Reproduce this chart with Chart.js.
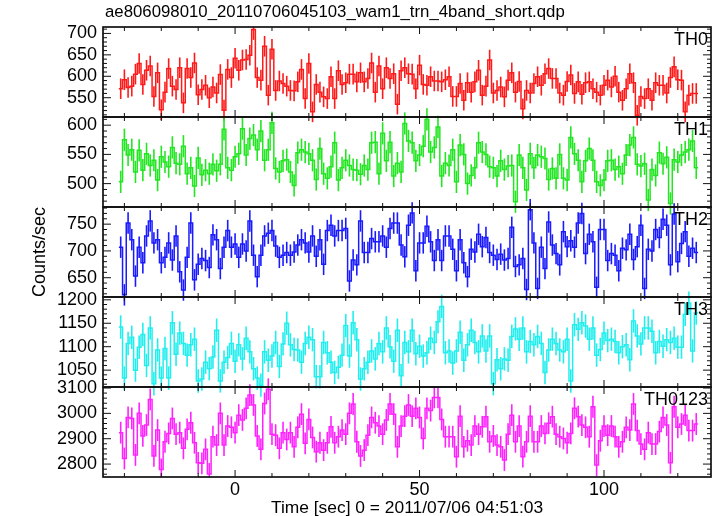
<!DOCTYPE html>
<html>
<head>
<meta charset="utf-8">
<script src="https://cdn.jsdelivr.net/npm/chart.js@4.4.0/dist/chart.umd.min.js"></script>
<style>
html, body { margin: 0; padding: 0; background: #fff; }
#wrap { width: 717px; height: 516px; }
</style>
</head>
<body>
<div id="wrap"><canvas id="lc" width="717" height="516"></canvas></div>
<script>
// 1 s bins, time from 2011/07/06 04:51:03
const firstBin = -31;
const binSize = 1;

const th0 = [571,592,574,577,605,630,581,614,624,553,608,522,563,618,577,569,620,538,618,597,631,557,569,579,550,575,561,604,521,616,597,
  642,614,638,639,649,709,597,591,670,556,663,567,589,583,577,567,566,587,
  616,548,630,517,581,563,552,548,599,548,613,581,585,605,605,587,608,587,595,631,563,624,571,620,595,606,535,613,620,606,605,571,626,581,579,599,589,589,587,592,599,553,553,583,544,585,563,587,614,556,577,638,561,567,
  575,552,591,608,563,588,524,567,561,583,599,579,606,618,595,595,561,556,588,603,560,587,558,585,587,571,563,556,579,591,575,600,563,544,571,606,585,509,553,548,571,544,585,579,579,561,597,622,592,591,517,556,560,560];

const th1 = [503,575,549,558,520,557,523,551,531,540,506,546,537,529,562,535,533,564,517,527,496,544,515,523,517,533,522,533,593,527,523,546,551,594,549,577,583,558,590,540,558,604,526,520,539,541,520,497,553,558,554,551,540,
  507,560,517,509,529,570,506,527,540,531,524,523,516,531,524,570,571,517,586,539,571,513,535,520,603,573,570,539,549,564,610,554,562,597,513,535,531,558,503,566,550,500,514,527,570,554,550,529,527,513,
  539,524,530,531,469,549,527,489,551,527,549,546,543,507,526,509,550,509,506,579,551,540,503,539,560,540,503,497,506,539,540,524,529,517,549,566,579,533,530,534,472,524,514,553,534,545,466,541,537,549,554,558,573,527];

const th2 = [707,618,752,721,653,707,678,728,756,715,721,678,688,715,683,728,661,627,688,752,646,675,686,682,669,730,721,667,707,738,707,
  713,688,713,700,756,692,652,692,728,733,738,709,688,692,697,692,698,711,721,715,698,728,
  690,721,675,738,748,728,738,738,742,644,683,674,756,697,697,723,717,717,728,707,742,752,752,711,689,748,771,663,715,715,746,717,682,721,682,728,728,703,663,721,678,652,703,698,731,708,725,697,692,684,
  694,683,686,744,671,674,686,628,777,715,630,707,667,754,711,695,674,736,708,719,707,752,770,695,731,717,632,740,740,682,695,692,663,705,702,731,684,708,748,630,703,700,740,725,759,748,674,769,680,714,736,690,705,697];

const th3 = [1142,1033,1107,1120,1050,1099,1126,1060,1140,1021,1093,1033,1096,1033,1151,1084,1129,1107,1082,1104,1116,1027,1031,1067,1053,1078,1135,1027,1067,1077,1107,
  1069,1104,1074,1118,1089,1053,1033,1018,1089,1071,1080,1109,1058,1106,1150,1104,1094,1093,1067,1107,1120,1115,
  1036,1036,1109,1087,1067,1045,1056,1082,1145,1080,1151,1115,1031,1053,1067,1091,1074,1107,1089,1140,1100,1069,1135,1038,1109,1089,1135,1085,1101,1080,1087,1118,1109,1153,1186,1087,1091,1065,1091,1131,1071,1104,1135,1109,1089,1123,1091,1123,1021,1072,
  1053,1074,1071,1122,1138,1116,1140,1089,1111,1104,1122,1107,1045,1093,1116,1107,1093,1089,1116,1027,1147,1137,1151,1144,1116,1140,1082,1094,1129,1113,1116,1111,1087,1100,1104,1072,1155,1123,1106,1140,1140,1133,1087,1111,1101,1115,1109,1118,1099,1099,1169,1193,1091,1172];

const th0123 = [2924,2822,2984,2980,2836,3000,2911,2954,3055,2832,2934,2779,2888,2921,2980,2918,2924,2862,2937,2963,2884,2805,2803,2858,2761,2908,2875,3000,2875,2950,2945,
  2924,2993,2974,3020,3072,3033,2911,2858,3039,3095,2918,2914,2862,2924,2897,2924,2868,2945,2997,2882,2976,2905,
  2849,2884,2855,2884,2947,2884,2908,2934,2918,3000,3037,2888,2832,2855,2914,2984,2963,2950,2918,2974,3037,2997,2868,2950,2989,3033,2989,3020,2984,2901,3020,3011,3063,3063,2976,2908,2908,2908,2829,2989,2868,2892,2875,2950,2918,2947,2987,2888,2911,2875,
  2868,2816,2918,2993,2888,2950,2829,2888,2989,2888,2888,2950,2921,2961,2987,2918,2908,2901,2884,2921,3020,2987,2954,2945,2908,3026,2796,2892,2950,2914,2950,2908,2868,2888,2945,2934,3037,2932,2879,2858,2924,2879,2879,2928,2984,2954,2805,3026,2945,2958,2993,2932,2932,2958];

const panelNames = ['TH0', 'TH1', 'TH2', 'TH3', 'TH0123'];
const panelValues = [th0, th1, th2, th3, th0123];
const panelErrors = [24, 19, 20, 25, 43];
const panelMin = [505, 460, 614, 1014, 2749];
const panelMax = [715, 614, 782, 1206, 3104];
const yTickLabels = [[550, 600, 650, 700], [500, 550, 600], [650, 700, 750], [1050, 1100, 1150, 1200], [2800, 2900, 3000, 3100]];
const yMinorStep = [10, 10, 10, 10, 20];
const xTickLabels = [0, 50, 100];
const xMinorStep = 10;
const xMin = -35.8;
const xMax = 129;

const colors = ['#ff1a1a', '#22e622', '#1a1aff', '#22eeee', '#ff22ff'];
const narrow = '"Liberation Sans Narrow", "Liberation Sans", Arial, sans-serif';
const regular = '"Liberation Sans", Arial, sans-serif';

const times = th0.map((_, i) => firstBin + i * binSize);
const axisIds = panelNames.map((_, p) => 'y' + p);

function stepPoints(values) {
  const pts = values.map((v, i) => ({x: times[i] - binSize / 2, y: v}));
  pts.push({x: times[values.length - 1] + binSize / 2, y: values[values.length - 1]});
  return pts;
}

const datasets = panelValues.map((vals, p) => ({
  label: panelNames[p],
  data: stepPoints(vals),
  yAxisID: axisIds[p],
  borderColor: colors[p],
  borderWidth: 1.5,
  pointRadius: 0,
  stepped: 'before',
  fill: false
}));

const scales = {
  x: {
    type: 'linear',
    min: xMin,
    max: xMax,
    grid: {display: false, drawTicks: false},
    border: {display: false},
    afterBuildTicks: s => { s.ticks = xTickLabels.map(v => ({value: v})); },
    afterFit: s => { s.height = 39; },
    ticks: {
      autoSkip: false, maxRotation: 0, padding: 2, color: '#000',
      font: {family: narrow, size: 18},
      callback: v => String(v)
    }
  }
};
// bottom panel first: stacked left axes are placed top-down in reverse order
for (let p = panelNames.length - 1; p >= 0; p--) {
  scales[axisIds[p]] = {
    type: 'linear',
    position: 'left',
    stack: 'panels',
    stackWeight: 1,
    min: panelMin[p],
    max: panelMax[p],
    grid: {display: false, drawTicks: false},
    border: {display: false},
    afterBuildTicks: s => { s.ticks = yTickLabels[p].map(v => ({value: v})); },
    afterFit: s => { s.width = 103; },
    ticks: {
      autoSkip: false, padding: 6, color: '#000',
      font: {family: narrow, size: 18},
      callback: v => String(v)
    }
  };
}

function line(ctx, x1, y1, x2, y2) {
  ctx.beginPath();
  ctx.moveTo(x1, y1);
  ctx.lineTo(x2, y2);
  ctx.stroke();
}

const qdpFrame = {
  id: 'qdpFrame',
  beforeDatasetsDraw(chart) {
    const ctx = chart.ctx;
    const a = chart.chartArea;
    const xs = chart.scales.x;
    ctx.save();
    ctx.beginPath();
    ctx.rect(a.left, a.top, a.right - a.left, a.bottom - a.top);
    ctx.clip();
    ctx.lineWidth = 1.6;
    panelValues.forEach((vals, p) => {
      const ys = chart.scales[axisIds[p]];
      ctx.strokeStyle = colors[p];
      vals.forEach((v, i) => {
        const x = xs.getPixelForValue(times[i]);
        line(ctx, x, ys.getPixelForValue(v - panelErrors[p]), x, ys.getPixelForValue(v + panelErrors[p]));
      });
    });
    ctx.restore();
  },
  afterDraw(chart) {
    const ctx = chart.ctx;
    const a = chart.chartArea;
    const xs = chart.scales.x;
    ctx.save();
    ctx.strokeStyle = '#111';
    panelValues.forEach((vals, p) => {
      const ys = chart.scales[axisIds[p]];
      const top = ys.top, bottom = ys.bottom;
      const major = yTickLabels[p][1] - yTickLabels[p][0];
      ctx.lineWidth = 1;
      for (let v = Math.ceil(ys.min / yMinorStep[p]) * yMinorStep[p]; v <= ys.max; v += yMinorStep[p]) {
        const y = ys.getPixelForValue(v);
        const len = v % major === 0 ? 8 : 4;
        line(ctx, a.left, y, a.left + len, y);
        line(ctx, a.right, y, a.right - len, y);
      }
      for (let t = Math.ceil(xs.min / xMinorStep) * xMinorStep; t <= xs.max; t += xMinorStep) {
        const x = xs.getPixelForValue(t);
        const len = xTickLabels.includes(t) ? 7 : 4;
        line(ctx, x, top, x, top + len);
        line(ctx, x, bottom, x, bottom - len);
      }
      ctx.lineWidth = 1.7;
      ctx.strokeRect(a.left, top, a.right - a.left, bottom - top);

      ctx.fillStyle = '#000';
      ctx.font = '18px ' + narrow;
      ctx.textAlign = 'right';
      ctx.textBaseline = 'middle';
      ctx.fillText(panelNames[p], a.right - 3, top + 13);
    });

    ctx.fillStyle = '#000';
    ctx.font = '16.8px ' + narrow;
    ctx.textAlign = 'left';
    ctx.textBaseline = 'middle';
    ctx.fillText('ae806098010_20110706045103_wam1_trn_4band_short.qdp', a.left + 2, 12);

    ctx.font = '17.4px ' + narrow;
    ctx.textAlign = 'center';
    ctx.fillText('Time [sec] 0 = 2011/07/06 04:51:03', (a.left + a.right) / 2, 508);

    ctx.translate(40, (a.top + a.bottom) / 2);
    ctx.rotate(-Math.PI / 2);
    ctx.font = '18px ' + regular;
    ctx.fillText('Counts/sec', 0, 0);
    ctx.restore();
  }
};

new Chart(document.getElementById('lc'), {
  type: 'line',
  data: {datasets: datasets},
  options: {
    responsive: false,
    animation: false,
    devicePixelRatio: 1,
    layout: {padding: {top: 27, right: 6, left: 0, bottom: 0}},
    plugins: {legend: {display: false}, tooltip: {enabled: false}},
    scales: scales
  },
  plugins: [qdpFrame]
});
</script>
</body>
</html>
